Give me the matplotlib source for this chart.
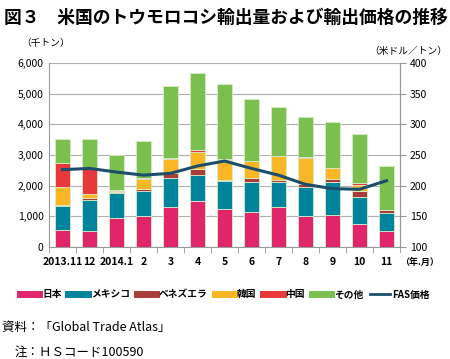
import matplotlib
matplotlib.use("Agg")
import matplotlib.pyplot as plt
import numpy as np
from matplotlib.lines import Line2D

plt.rcParams['font.family'] = ['Noto Sans CJK JP', 'DejaVu Sans']

months = ['2013.11', '12', '2014.1', '2', '3', '4', '5', '6', '7', '8', '9', '10', '11']
japan     = [567, 534, 958, 1024, 1304, 1500, 1239, 1141, 1304, 1000, 1033, 761, 522]
mexico    = [783, 1011, 803, 792, 959, 838, 913, 989, 826, 957, 1097, 869, 576]
venezuela = [20, 55, 20, 88, 150, 195, 44, 133, 66, 87, 87, 186, 119]
korea     = [587, 141, 30, 313, 457, 565, 652, 541, 761, 869, 359, 214, 0]
china     = [782, 815, 48, 20, 20, 55, 10, 10, 10, 10, 10, 68, 0]
other     = [763, 946, 1141, 1200, 2350, 2501, 2447, 1992, 1588, 1316, 1479, 1576, 1413]
fas_price = [226, 228, 222, 217, 220, 232, 240, 228, 217, 202, 195, 194, 208]

series = [('日本', japan, '#E0256B'), ('メキシコ', mexico, '#00849B'),
          ('ベネズエラ', venezuela, '#A83D3B'), ('韓国', korea, '#F9B625'),
          ('中国', china, '#E8383B'), ('その他', other, '#7BBF4F')]

fig = plt.figure(figsize=(4.5, 3.59), dpi=100)
ax = fig.add_axes([0.109, 0.312, 0.78, 0.513])
x = np.arange(len(months))
bottom = np.zeros(len(months))
for name, vals, col in series:
    ax.bar(x, vals, width=0.56, bottom=bottom, color=col, edgecolor='#d8ecc8',
           linewidth=0.6, label=name, zorder=2)
    bottom += np.array(vals)
ax.set_xlim(-0.5, len(months) - 0.5)
ax.set_ylim(0, 6000)
ax.set_yticks(range(0, 6001, 1000))
ax.set_yticklabels([f'{v:,}' for v in range(0, 6001, 1000)], fontsize=7.5)
ax.yaxis.grid(True, color='#b0b0b0', linewidth=0.8, zorder=0)
ax.set_axisbelow(True)
ax.set_xticks(x)
ax.set_xticklabels(months, fontsize=7.5, fontweight='bold')
ax.set_xticks(np.arange(-0.5, len(months), 1), minor=True)
ax.tick_params(axis='x', which='major', length=0, pad=7)
ax.tick_params(axis='x', which='minor', length=4, color='#999999')
ax.tick_params(axis='y', length=0, pad=4)
ax.spines['top'].set_visible(False)
for s in ['left', 'right', 'bottom']:
    ax.spines[s].set_color('#999999')

ax2 = ax.twinx()
ax2.set_ylim(100, 400)
ax2.set_yticks(range(100, 401, 50))
ax2.set_yticklabels([str(v) for v in range(100, 401, 50)], fontsize=7.5)
ax2.tick_params(axis='y', length=4, color='#999999', pad=3)
ax2.plot(x, fas_price, color='#1C4E6B', linewidth=2.2, label='FAS価格', zorder=5)
for s in ['top', 'left', 'bottom']:
    ax2.spines[s].set_visible(False)
ax2.spines['right'].set_color('#999999')

fig.text(0.01, 0.95, '図３　米国のトウモロコシ輸出量および輸出価格の推移', fontsize=12.8,
         fontweight='bold', va='center')
fig.text(0.048, 0.88, '（千トン）', fontsize=7, va='center')
fig.text(0.993, 0.858, '（米ドル／トン）', fontsize=7, va='center', ha='right')
fig.text(0.89, 0.27, '（年.月）', fontsize=6.5, va='center', fontweight='bold')

leg_handles = [Line2D([0], [0], color=c, linewidth=5) for _, _, c in series]
leg_handles.append(Line2D([0], [0], color='#1C4E6B', linewidth=2))
leg_labels = [n for n, _, _ in series] + ['FAS価格']
fig.legend(leg_handles, leg_labels, loc='center', bbox_to_anchor=(0.5, 0.18), ncol=7,
           frameon=False, handlelength=2.0, handletextpad=0.3, columnspacing=0.7,
           borderaxespad=0, borderpad=0, prop={'weight': 'bold', 'size': 7})

fig.text(0.005, 0.088, '資料：「Global Trade Atlas」', fontsize=9, va='center')
fig.text(0.033, 0.02, '注：ＨＳコード100590', fontsize=9, va='center')

fig.savefig('out.png', dpi=100)
